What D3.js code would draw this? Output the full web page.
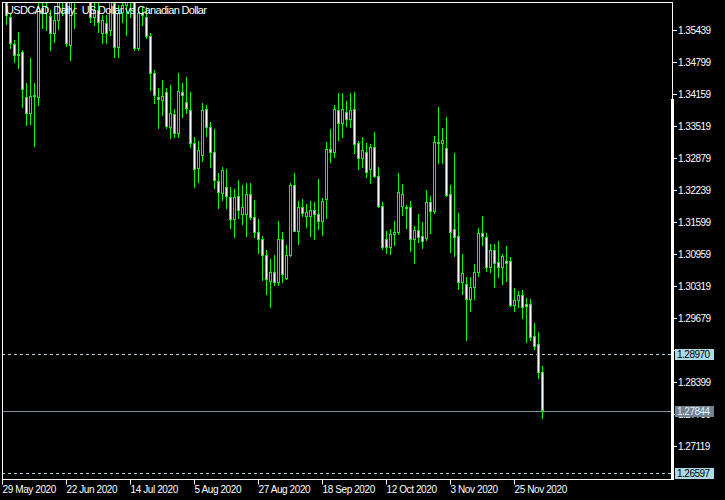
<!DOCTYPE html>
<html><head><meta charset="utf-8">
<script src="https://cdn.jsdelivr.net/npm/d3@7"></script>
<style>
html,body{margin:0;padding:0;background:#000;}
svg{display:block;}
text{font-family:"Liberation Sans",Arial,sans-serif;}
</style></head><body>
<svg id="c" width="725" height="500"></svg>
<script>
const title = "USDCAD, Daily:  US Dollar vs Canadian Dollar";
const dates = ["05-29",
"06-01","06-02","06-03","06-04","06-05","06-08","06-09","06-10","06-11","06-12","06-15","06-16","06-17","06-18","06-19","06-22","06-23","06-24","06-25","06-26","06-29","06-30",
"07-01","07-02","07-03","07-06","07-07","07-08","07-09","07-10","07-13","07-14","07-15","07-16","07-17","07-20","07-21","07-22","07-23","07-24","07-27","07-28","07-29","07-30","07-31",
"08-03","08-04","08-05","08-06","08-07","08-10","08-11","08-12","08-13","08-14","08-17","08-18","08-19","08-20","08-21","08-24","08-25","08-26","08-27","08-28","08-31",
"09-01","09-02","09-03","09-04","09-07","09-08","09-09","09-10","09-11","09-14","09-15","09-16","09-17","09-18","09-21","09-22","09-23","09-24","09-25","09-28","09-29","09-30",
"10-01","10-02","10-05","10-06","10-07","10-08","10-09","10-12","10-13","10-14","10-15","10-16","10-19","10-20","10-21","10-22","10-23","10-26","10-27","10-28","10-29","10-30",
"11-02","11-03","11-04","11-05","11-06","11-09","11-10","11-11","11-12","11-13","11-16","11-17","11-18","11-19","11-20","11-23","11-24","11-25","11-26","11-27","11-30",
"12-01","12-02","12-03","12-04"];
const open = [1.3770,1.3680,1.3571,1.3517,1.3497,1.3501,1.3411,1.3379,1.3413,1.3411,
1.3589,1.3580,1.3573,1.3539,1.3565,1.3600,1.3610,1.3515,1.3620,1.3640,
1.3660,1.3680,1.3640,1.3571,1.3585,1.3539,1.3559,1.3545,1.3599,1.3511,
1.3580,1.3595,1.3605,1.3610,1.3509,1.3579,1.3571,1.3533,1.3459,1.3411,
1.3405,1.3421,1.3351,1.3377,1.3339,1.3421,1.3401,1.3385,1.3319,1.3269,
1.3295,1.3387,1.3351,1.3301,1.3243,1.3219,1.3231,1.3211,1.3167,1.3213,
1.3177,1.3177,1.3217,1.3171,1.3141,1.3127,1.3095,1.3043,1.3061,1.3041,
1.3127,1.3049,1.3095,1.3235,1.3143,1.3191,1.3173,1.3173,1.3185,1.3177,
1.3163,1.3207,1.3307,1.3301,1.3385,1.3359,1.3381,1.3367,1.3387,1.3319,
1.3289,1.3301,1.3267,1.3311,1.3253,1.3193,1.3127,1.3111,1.3137,1.3141,
1.3193,1.3191,1.3191,1.3127,1.3145,1.3133,1.3129,1.3201,1.3183,1.3321,
1.3319,1.3309,1.3217,1.3147,1.3133,1.3041,1.3037,1.3007,1.3031,1.3061,
1.3139,1.3131,1.3071,1.3105,1.3081,1.3071,1.3083,1.3083,1.2995,1.3005,
1.3015,1.2997,1.2997,1.2933,1.2917,1.2861];
const high = [1.3800,1.3700,1.3579,1.3525,1.3541,1.3505,1.3439,1.3489,1.3439,1.3605,
1.3610,1.3615,1.3585,1.3581,1.3615,1.3630,1.3625,1.3630,1.3650,1.3680,
1.3700,1.3700,1.3660,1.3610,1.3605,1.3575,1.3575,1.3610,1.3610,1.3595,
1.3610,1.3625,1.3630,1.3620,1.3589,1.3591,1.3591,1.3539,1.3465,1.3429,
1.3445,1.3429,1.3435,1.3387,1.3459,1.3439,1.3451,1.3421,1.3331,1.3323,
1.3399,1.3395,1.3361,1.3347,1.3259,1.3271,1.3267,1.3231,1.3227,1.3245,
1.3235,1.3239,1.3239,1.3205,1.3167,1.3133,1.3105,1.3087,1.3095,1.3163,
1.3141,1.3115,1.3239,1.3259,1.3203,1.3207,1.3197,1.3203,1.3201,1.3247,
1.3209,1.3321,1.3347,1.3395,1.3419,1.3419,1.3403,1.3419,1.3421,1.3323,
1.3331,1.3319,1.3317,1.3341,1.3271,1.3201,1.3143,1.3147,1.3163,1.3259,
1.3237,1.3195,1.3203,1.3153,1.3177,1.3161,1.3225,1.3213,1.3333,1.3391,
1.3349,1.3371,1.3235,1.3299,1.3179,1.3097,1.3051,1.3051,1.3077,1.3149,
1.3173,1.3139,1.3117,1.3117,1.3123,1.3097,1.3113,1.3091,1.3029,1.3023,
1.3025,1.3009,1.3007,1.2959,1.2941,1.2873];
const low = [1.3700,1.3557,1.3509,1.3481,1.3469,1.3391,1.3355,1.3357,1.3313,1.3395,
1.3549,1.3545,1.3505,1.3521,1.3547,1.3575,1.3513,1.3485,1.3549,1.3610,
1.3620,1.3615,1.3561,1.3555,1.3541,1.3519,1.3519,1.3535,1.3491,1.3491,
1.3560,1.3535,1.3570,1.3505,1.3505,1.3555,1.3529,1.3425,1.3399,1.3349,
1.3375,1.3349,1.3329,1.3331,1.3331,1.3371,1.3379,1.3311,1.3231,1.3241,
1.3283,1.3333,1.3271,1.3229,1.3189,1.3205,1.3189,1.3149,1.3131,1.3169,
1.3157,1.3133,1.3167,1.3131,1.3099,1.3045,1.3017,1.2991,1.3035,1.3035,
1.3041,1.3047,1.3093,1.3143,1.3117,1.3173,1.3151,1.3133,1.3127,1.3147,
1.3135,1.3169,1.3281,1.3291,1.3325,1.3331,1.3353,1.3351,1.3299,1.3267,
1.3271,1.3251,1.3239,1.3251,1.3191,1.3107,1.3099,1.3097,1.3115,1.3137,
1.3175,1.3149,1.3103,1.3079,1.3121,1.3109,1.3125,1.3139,1.3179,1.3279,
1.3279,1.3213,1.3101,1.3093,1.3027,1.3017,1.2925,1.2983,1.3007,1.3053,
1.3115,1.3063,1.3061,1.3031,1.3051,1.3037,1.3043,1.2993,1.2983,1.2991,
1.2969,1.2921,1.2925,1.2907,1.2849,1.2769];
const close = [1.3775,1.3575,1.3519,1.3495,1.3495,1.3427,1.3379,1.3413,1.3415,1.3589,
1.3580,1.3590,1.3539,1.3565,1.3600,1.3610,1.3519,1.3615,1.3630,1.3660,
1.3680,1.3640,1.3571,1.3585,1.3561,1.3565,1.3539,1.3600,1.3511,1.3579,
1.3595,1.3605,1.3610,1.3509,1.3579,1.3575,1.3533,1.3459,1.3415,1.3407,
1.3413,1.3353,1.3379,1.3339,1.3423,1.3415,1.3389,1.3319,1.3267,1.3305,
1.3385,1.3351,1.3301,1.3245,1.3221,1.3265,1.3213,1.3167,1.3211,1.3185,
1.3191,1.3217,1.3171,1.3141,1.3127,1.3095,1.3047,1.3061,1.3041,1.3127,
1.3057,1.3095,1.3235,1.3143,1.3191,1.3179,1.3181,1.3185,1.3177,1.3163,
1.3203,1.3307,1.3301,1.3387,1.3359,1.3387,1.3367,1.3385,1.3317,1.3289,
1.3305,1.3261,1.3311,1.3253,1.3193,1.3111,1.3111,1.3137,1.3141,1.3221,
1.3217,1.3189,1.3127,1.3145,1.3131,1.3123,1.3201,1.3183,1.3321,1.3319,
1.3325,1.3215,1.3141,1.3131,1.3041,1.3059,1.3007,1.3031,1.3061,1.3139,
1.3133,1.3071,1.3105,1.3079,1.3071,1.3093,1.3079,1.2995,1.3005,1.3015,
1.2991,1.2993,1.2931,1.2913,1.2861,1.27844];
const priceTicks = [1.35439,1.34799,1.34159,1.33519,1.32879,1.32239,1.31599,1.30959,1.30319,1.29679,1.29039,1.28399,1.27759,1.27119];
const hiddenPriceTicks = [1.29039];
const dateTicks = ["05-29","06-22","07-14","08-05","08-27","09-18","10-12","11-03","11-25"];
const dateTickLabels = ["29 May 2020","22 Jun 2020","14 Jul 2020","5 Aug 2020","27 Aug 2020","18 Sep 2020","12 Oct 2020","3 Nov 2020","25 Nov 2020"];
const dashedLevels = [1.28970, 1.26597];
const bidLevel = 1.27844;

const L=2,R=672,T=2,B=479;
const svg=d3.select('#c');
svg.append('rect').attr('width',725).attr('height',500).attr('fill','#000');
const x=d3.scalePoint().domain(dates).range([2,542]);
const y=d3.scaleLinear().domain([1.26469,1.36009]).range([B,T]);
const row=v=>Math.round(y(v));

svg.append('defs').append('clipPath').attr('id','clip').append('rect')
  .attr('x',L+1).attr('y',T+1).attr('width',R-L-1).attr('height',B-T-1);

// horizontal levels
dashedLevels.forEach(v=>{
  svg.append('line').attr('x1',L).attr('x2',R).attr('y1',row(v)+0.5).attr('y2',row(v)+0.5)
    .attr('stroke','#add8e6').attr('stroke-dasharray','3,3');
});
svg.append('line').attr('x1',L).attr('x2',R).attr('y1',row(bidLevel)+1.5).attr('y2',row(bidLevel)+1.5)
  .attr('stroke','#8595a3');

// candles
const g=svg.append('g').attr('clip-path','url(#clip)');
dates.forEach((d,i)=>{
  const cx=Math.round(x(d));
  g.append('line').attr('x1',cx+0.5).attr('x2',cx+0.5)
    .attr('y1',row(high[i])).attr('y2',row(low[i])+1).attr('stroke','#00ff00');
  const yo=row(open[i]), yc=row(close[i]);
  const top=Math.min(yo,yc), bot=Math.max(yo,yc);
  if(bot===top){
    g.append('line').attr('x1',cx-1).attr('x2',cx+2).attr('y1',top+0.5).attr('y2',top+0.5).attr('stroke','#00ff00');
  } else {
    g.append('rect').attr('x',cx-0.5).attr('y',top+0.5).attr('width',2).attr('height',bot-top)
      .attr('fill', close[i]<open[i] ? '#ffffff' : '#000000').attr('stroke','#00ff00');
  }
});

// border
svg.append('rect').attr('x',L+0.5).attr('y',T+0.5).attr('width',R-L).attr('height',B-T)
  .attr('fill','none').attr('stroke','#fff');
svg.append('rect').attr('x',671).attr('y',99).attr('width',3).attr('height',B-99+1).attr('fill','#fff');

// title
svg.append('text').attr('x',6).attr('y',14).attr('fill','#fff').style('font-size','11px')
  .style('white-space','pre').attr('textLength',201).text(title);

// y axis
const fmt=d3.format('.5f');
const ya=svg.append('g').attr('transform','translate(673,0)')
  .call(d3.axisRight(y).tickValues(priceTicks)
    .tickFormat(v=>hiddenPriceTicks.includes(v)?'':fmt(v)).tickSize(4).tickPadding(1).offset(0));
ya.select('.domain').remove();
ya.selectAll('line').attr('stroke','#fff');
ya.selectAll('text').attr('fill','#fff').style('font-size','10px').style('letter-spacing','-0.5px').attr('font-family','Liberation Sans, Arial, sans-serif');

// x axis
const xa=svg.append('g').attr('transform','translate(0,'+(B+0.5)+')')
  .call(d3.axisBottom(x).tickValues(dateTicks).tickFormat((d,i)=>dateTickLabels[i]).tickSize(5).tickPadding(1));
xa.select('.domain').remove();
xa.selectAll('line').attr('stroke','#fff');
xa.selectAll('text').attr('fill','#fff').attr('text-anchor','start').attr('x',0)
  .style('font-size','10px').style('letter-spacing','-0.4px').attr('font-family','Liberation Sans, Arial, sans-serif');

// value boxes
function box(v, fill, tc, dy){
  const r=row(v)+dy;
  svg.append('rect').attr('x',675).attr('y',r-5).attr('width',39).attr('height',11).attr('fill',fill);
  svg.append('text').attr('x',677).attr('y',r+4).attr('fill',tc).style('font-size','10px')
    .style('letter-spacing','-0.5px').text(fmt(v));
}
box(dashedLevels[0],'#add8e6','#000',0);
box(bidLevel,'#708494','#e8eef2',1);
box(dashedLevels[1],'#add8e6','#000',0);
</script>
</body></html>
